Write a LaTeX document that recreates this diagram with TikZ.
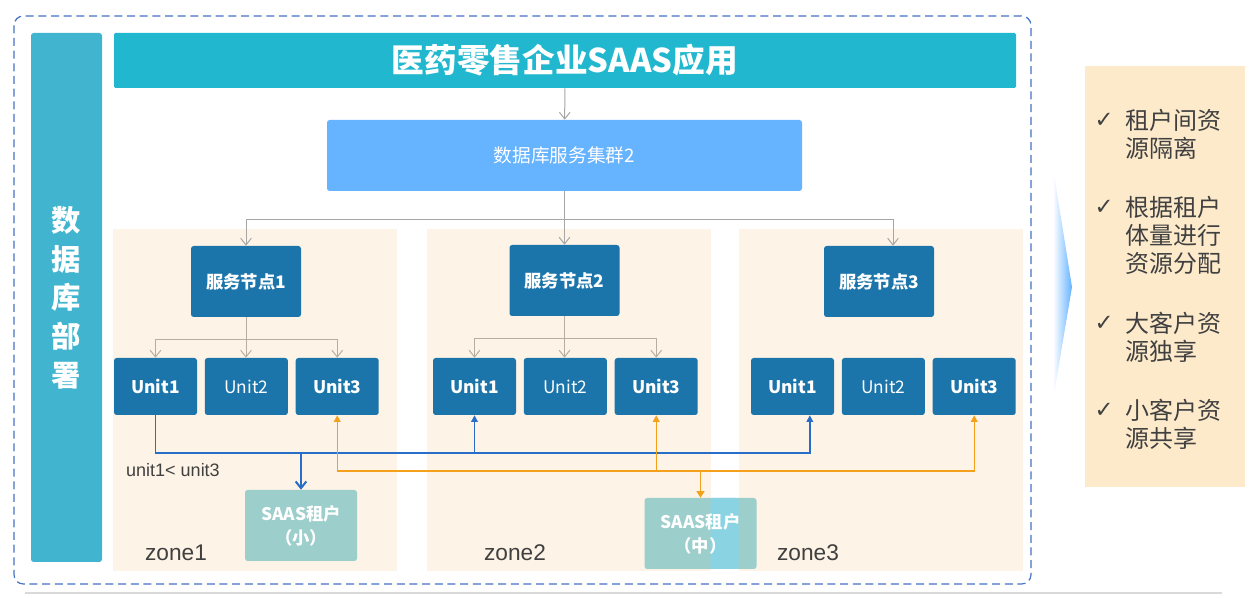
\documentclass[tikz,border=0pt]{standalone}
\usepackage{fontspec}
\setmainfont{Noto Sans CJK SC}
\newfontfamily\latinfont{Liberation Sans}
\newfontfamily\symbolfont{DejaVu Sans}
\usetikzlibrary{
  arrows.meta,
  positioning
}
\definecolor{framecolor}{RGB}{68, 114, 196}
\definecolor{sidecolor}{RGB}{65, 181, 207}
\definecolor{titlecolor}{RGB}{33, 184, 207}
\definecolor{clustercolor}{RGB}{102, 179, 255}
\definecolor{zonecolor}{RGB}{253, 243, 230}
\definecolor{nodecolor}{RGB}{28, 117, 170}
\definecolor{tenantcolor}{RGB}{156, 206, 204}
\definecolor{gapcolor}{RGB}{138, 211, 226}
\definecolor{panelcolor}{RGB}{253, 234, 203}
\definecolor{arrowcolor}{RGB}{166, 166, 166}
\definecolor{zonearrowcolor}{RGB}{184, 174, 160}
\definecolor{linkblue}{RGB}{40, 110, 200}
\definecolor{linkorange}{RGB}{245, 160, 26}
\definecolor{labelcolor}{RGB}{64, 64, 64}
\definecolor{rulecolor}{RGB}{217, 217, 217}

\begin{document}
\begin{tikzpicture}[
    x=0.75pt, y=-0.75pt,
    % block styles
    block/.style={
        rectangle,
        rounded corners=2pt,
        draw=none,
        text=white,
        inner sep=0pt,
        align=center,
    },
    sideblock/.style={block, fill=sidecolor, minimum width=53.25pt, minimum height=396.75pt,
        font=\fontsize{22}{29}\selectfont\bfseries},
    titleblock/.style={block, fill=titlecolor, rounded corners=1pt, minimum width=676.5pt, minimum height=41.25pt,
        font=\fontsize{24.5}{28}\selectfont\bfseries},
    clusterblock/.style={block, fill=clustercolor, minimum width=356.25pt, minimum height=53.25pt,
        font=\fontsize{14}{17}\selectfont},
    zonebox/.style={rectangle, fill=zonecolor, draw=none, minimum width=213pt, minimum height=256.5pt, inner sep=0pt},
    nodeblock/.style={block, fill=nodecolor, minimum width=82.5pt, minimum height=53.25pt,
        font=\fontsize{13}{16}\selectfont\bfseries},
    unitblock/.style={block, fill=nodecolor, minimum width=62.25pt, minimum height=42.75pt,
        font=\fontsize{13}{16}\selectfont},
    unitbold/.style={unitblock, font=\fontsize{13}{16}\selectfont\bfseries},
    tenantblock/.style={block, fill=tenantcolor, minimum width=84pt, minimum height=53.25pt,
        font=\fontsize{13}{18}\selectfont\bfseries},
    panelblock/.style={rectangle, fill=panelcolor, draw=none, minimum width=120pt, minimum height=315.75pt},
    % labels
    zonelabel/.style={font=\latinfont\fontsize{17}{20}\selectfont, text=labelcolor},
    notelabel/.style={font=\latinfont\fontsize{13.5}{16}\selectfont, text=labelcolor},
    itemtext/.style={font=\fontsize{18}{21}\selectfont, text=labelcolor, align=left, anchor=west, inner sep=0pt},
    checkmark/.style={font=\symbolfont\fontsize{17}{18}\selectfont, text=labelcolor},
    % connectors
    grayarrow/.style={-{Straight Barb[length=5pt, width=8pt]}, line width=0.75pt, arrowcolor},
    zonearrow/.style={-{Straight Barb[length=5pt, width=8pt]}, line width=0.75pt, zonearrowcolor},
    bluelink/.style={line width=1pt, linkblue},
    orangelink/.style={line width=1pt, linkorange},
    framestyle/.style={draw=framecolor, line width=0.9pt, dash pattern=on 6pt off 3.5pt, rounded corners=7pt},
]
\useasboundingbox (0,0) rectangle (1258,598);

% ============================================================================
% FRAME
% ============================================================================
\draw[framestyle] (14,16) rectangle (1031,584);
\draw[rulecolor, line width=1.2pt] (25,593) -- (1222,593);

% ============================================================================
% SIDE BAR + TITLE
% ============================================================================
\node[sideblock] (sidebar) at (66.5, 297.5) {数\\据\\库\\部\\署};
\node[titleblock] (title) at (565, 60.5) {医药零售企业SAAS应用};
\node[clusterblock] (cluster) at (564.5, 155.5) {数据库服务集群2};

% ============================================================================
% ZONES
% ============================================================================
\node[zonebox] (zone1) at (255, 400) {};
\node[zonebox] (zone2) at (568.5, 400) {};
\node[zonebox] (zone3) at (881, 400) {};

\node[zonelabel] (zone1label) at (176, 553) {zone1};
\node[zonelabel] (zone2label) at (515, 553) {zone2};
\node[zonelabel] (zone3label) at (808, 553) {zone3};

% service nodes
\node[nodeblock] (srv1) at (246, 281.5) {服务节点1};
\node[nodeblock] (srv2) at (564.5, 280.5) {服务节点2};
\node[nodeblock] (srv3) at (879, 281.5) {服务节点3};

% units
\node[unitbold] (z1u1) at (155.5, 386.5) {Unit1};
\node[unitblock, right=5.5pt of z1u1] (z1u2) {Unit2};
\node[unitbold, right=5.5pt of z1u2] (z1u3) {Unit3};

\node[unitbold] (z2u1) at (474.5, 386.5) {Unit1};
\node[unitblock, right=5.5pt of z2u1] (z2u2) {Unit2};
\node[unitbold, right=5.5pt of z2u2] (z2u3) {Unit3};

\node[unitbold] (z3u1) at (792.5, 386.5) {Unit1};
\node[unitblock, right=5.5pt of z3u1] (z3u2) {Unit2};
\node[unitbold, right=5.5pt of z3u2] (z3u3) {Unit3};

% tenants
\node[tenantblock] (saassmall) at (301, 525.5) {SAAS租户\\（小）};
\node[tenantblock,
      path picture={\fill[gapcolor] ([xshift=49.5pt]path picture bounding box.south west)
                    rectangle ([xshift=70.5pt]path picture bounding box.north west);}]
      (saasmid) at (700.5, 533.5) {SAAS租户\\（中）};

\node[notelabel] (ordernote) at (173, 470) {unit1< unit3};

% ============================================================================
% CONNECTORS
% ============================================================================
\draw[grayarrow] (title) -- (cluster);
\draw[grayarrow] (cluster.south) -- ++(0,28) -| (srv1.north);
\draw[grayarrow] (cluster.south) -- (srv2.north);
\draw[grayarrow] (cluster.south) -- ++(0,28) -| ([xshift=10.5pt]srv3.north);

\draw[zonearrow] (srv1.south) -- ++(0,22) -| (z1u1.north);
\draw[zonearrow] (srv1.south) -- (srv1.south |- z1u2.north);
\draw[zonearrow] (srv1.south) -- ++(0,22) -| (z1u3.north);

\draw[zonearrow] (srv2.south) -- ++(0,22) -| (z2u1.north);
\draw[zonearrow] (srv2.south) -- (srv2.south |- z2u2.north);
\draw[zonearrow] (srv2.south) -- ++(0,22) -| (z2u3.north);

\coordinate (bluebus) at (0, 453);
\coordinate (orangebus) at (0, 471);
\coordinate (u31in) at ([xshift=13pt]z3u1.south);

\draw[bluelink, -{Triangle[length=5pt, width=5pt]}] (z1u1.south) |- (u31in |- bluebus) -- (u31in);
\draw[bluelink, -{Triangle[length=5pt, width=5pt]}] (z2u1.south |- bluebus) -- (z2u1.south);
\draw[bluelink, line width=1.5pt, -{Straight Barb[length=5pt, width=8pt]}] (saassmall.north |- bluebus) -- (saassmall.north);

\draw[orangelink, {Triangle[length=5pt, width=5pt]}-{Triangle[length=5pt, width=5pt]}] (z1u3.south) |- (z3u3.south |- orangebus) -- (z3u3.south);
\draw[orangelink, -{Triangle[length=5pt, width=5pt]}] (z2u3.south |- orangebus) -- (z2u3.south);
\draw[orangelink, -{Triangle[length=5pt, width=6pt]}] (saasmid.north |- orangebus) -- (saasmid.north);

% ============================================================================
% RIGHT PANEL
% ============================================================================
\shade[left color=white, right color=clustercolor] (1053,168) -- (1072,287) -- (1053,400) -- cycle;

\node[panelblock] (panel) at (1165, 276.5) {};
\node[checkmark] (chk1) at (1104, 120) {✓};
\node[itemtext] (item1) at (1125, 134) {租户间资\\源隔离};
\node[checkmark] (chk2) at (1104, 207) {✓};
\node[itemtext] (item2) at (1125, 235) {根据租户\\体量进行\\资源分配};
\node[checkmark] (chk3) at (1104, 323) {✓};
\node[itemtext] (item3) at (1125, 337.5) {大客户资\\源独享};
\node[checkmark] (chk4) at (1104, 410) {✓};
\node[itemtext] (item4) at (1125, 424) {小客户资\\源共享};

\end{tikzpicture}
\end{document}
